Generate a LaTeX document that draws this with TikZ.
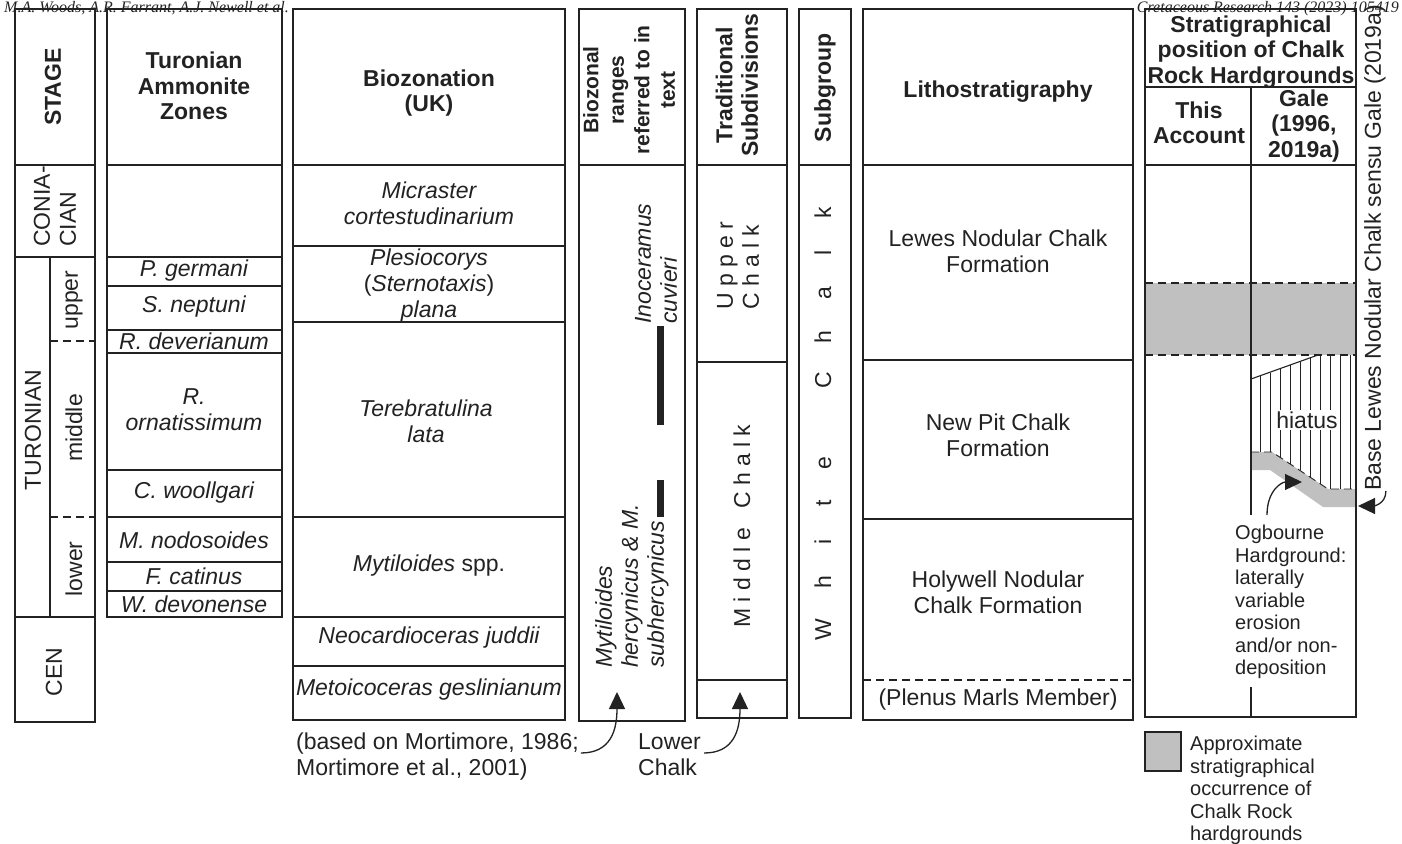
\documentclass[tikz,border=0pt]{standalone}
\usepackage{fontspec}
\setmainfont{Liberation Sans}
\newfontfamily\runfont{Liberation Serif}
\usetikzlibrary{arrows.meta}

\definecolor{ink}{RGB}{34,34,34}
\definecolor{hardgrey}{RGB}{192,192,192}

\tikzset{
frame/.style={draw=ink,line width=1.8pt},
rule/.style={draw=ink,line width=1.1pt},
hatch/.style={draw=ink,line width=0.9pt},
broken/.style={dash pattern=on 8pt off 5pt},
txt/.style={text=ink,inner sep=0pt,align=center,font=\fontsize{23}{26}\selectfont},
head/.style={txt,font=\bfseries\fontsize{23}{25.5}\selectfont},
taxon/.style={txt,font=\itshape\fontsize{23}{26}\selectfont},
note/.style={text=ink,inner sep=0pt,align=left,anchor=north west,font=\fontsize{20}{22.5}\selectfont},
runhead/.style={text=ink,inner sep=0pt,font=\runfont\itshape\fontsize{16}{18}\selectfont},
arrow/.style={draw=ink,line width=1.3pt,-{Triangle[length=17pt,width=16pt]}},
}

\begin{document}
\begin{tikzpicture}[x=1pt,y=-1pt]
\useasboundingbox (0,0) rectangle (1402,843);

\fill[hardgrey] (1145,283) rectangle (1356,355);
\fill[hardgrey] (1251,452)--(1272,452)--(1328,489)--(1356,489)--(1356,507)--(1323,507)--(1270,470)--(1251,470)--cycle;

\foreach \x/\t/\b in {1260/376/452,1270/373/452,1280/369/457,1290/365/464,1300/362/470,
  1310/358/477,1320/355/484,1330/355/489,1340/355/489,1350/355/489}
  \draw[hatch] (\x,\t)--(\x,\b);
\draw[rule] (1251,379)--(1318,355);
\draw[hatch,broken] (1251,452)--(1272,452)--(1328,489)--(1356,489);

\draw[frame] (15,9) rectangle (95,722);
\draw[frame] (107,9) rectangle (282,617);
\draw[frame] (293,9) rectangle (565,720);
\draw[frame] (579,9) rectangle (685,721);
\draw[frame] (697,9) rectangle (787,718);
\draw[frame] (799,9) rectangle (851,718);
\draw[frame] (863,9) rectangle (1133,720);
\draw[frame] (1145,9) rectangle (1356,717);

\draw[rule] (15,165)--(95,165);
\draw[rule] (15,257)--(95,257);
\draw[frame] (15,617)--(95,617);
\draw[rule] (50,257)--(50,617);
\draw[rule,broken] (50,341)--(95,341);
\draw[rule,broken] (50,517)--(95,517);

\foreach \y in {165,257,286,330,353,470,517,562,591}
  \draw[rule] (107,\y)--(282,\y);

\draw[frame] (293,165)--(565,165);
\foreach \y in {246,322,517,617,666}
  \draw[rule] (293,\y)--(565,\y);

\draw[rule] (579,165)--(685,165);
\foreach \y in {165,362,680}
  \draw[rule] (697,\y)--(787,\y);
\draw[rule] (799,165)--(851,165);

\draw[frame] (863,165)--(1133,165);
\draw[rule] (863,360)--(1133,360);
\draw[rule] (863,519)--(1133,519);
\draw[rule,broken] (863,680)--(1133,680);

\draw[rule] (1145,87)--(1356,87);
\draw[frame] (1145,165)--(1356,165);
\draw[rule,broken] (1145,283)--(1356,283);
\draw[rule,broken] (1145,355)--(1356,355);
\draw[rule] (1251,87)--(1251,515);
\draw[rule] (1251,687)--(1251,717);

\fill[ink] (657,326) rectangle (664,425);
\fill[ink] (657,480) rectangle (664,517);

\node[runhead,anchor=base west] (authors) at (4,13) {M.A. Woods, A.R. Farrant, A.J. Newell et al.};
\node[runhead,anchor=base east] (journal) at (1399,13) {Cretaceous Research 143 (2023) 105419};

\node[head,rotate=90] (stagehd) at (53,87) {STAGE};
\node[txt,rotate=90,anchor=west,align=left] (coniacian) at (55,247) {CONIA-\\CIAN};
\node[txt,rotate=90] (turonian) at (33,430) {TURONIAN};
\node[txt,rotate=90] (upper) at (74,300) {upper};
\node[txt,rotate=90] (middle) at (74,428) {middle};
\node[txt,rotate=90] (lower) at (74,569) {lower};
\node[txt,rotate=90] (cen) at (54,672) {CEN};

\node[head] (ammhd) at (194,86) {Turonian\\Ammonite\\Zones};
\node[taxon] (germani) at (194,271) {P. germani};
\node[taxon] (neptuni) at (194,307) {S. neptuni};
\node[taxon] (deverianum) at (194,341) {R. deverianum};
\node[taxon] (ornatissimum) at (194,410) {R.\\ornatissimum};
\node[taxon] (woollgari) at (194,493) {C. woollgari};
\node[taxon] (nodosoides) at (194,540) {M. nodosoides};
\node[taxon] (catinus) at (194,576) {F. catinus};
\node[taxon] (devonense) at (194,604) {W. devonense};

\node[head] (biohd) at (429,93) {Biozonation\\(UK)};
\node[taxon] (micraster) at (429,203) {Micraster\\cortestudinarium};
\node[txt] (plesiocorys) at (429,286) {\textit{Plesiocorys}\\(\textit{Sternotaxis})\\\textit{plana}};
\node[taxon] (terebratulina) at (426,421) {Terebratulina\\lata};
\node[txt] (mytiloides) at (429,566) {\textit{Mytiloides} spp.};
\node[taxon] (juddii) at (429,638) {Neocardioceras juddii};
\node[taxon] (geslinianum) at (429,690) {Metoicoceras geslinianum};

\node[head,rotate=90,font=\bfseries\fontsize{21}{25.5}\selectfont] (rangehd) at (629,90) {Biozonal\\ranges\\referred to in\\text};
\node[taxon,rotate=90,anchor=west,align=left] (cuvieri) at (656,324) {Inoceramus\\cuvieri};
\node[taxon,rotate=90,anchor=west,align=left] (hercynicus) at (632,668) {Mytiloides\\hercynicus \& M.\\subhercynicus};

\node[head,rotate=90] (tradhd) at (737,85) {Traditional\\Subdivisions};
\node[txt,rotate=90,anchor=west,align=left] (upperchalk) at (738,310) {U p p e r\\C h a l k};
\node[txt,rotate=90,anchor=west] (middlechalk) at (742,628) {M i d d l e\ \ \ C h a l k};

\node[head,rotate=90] (subhd) at (825,88) {Subgroup};
\foreach \c/\y in {W/630,h/582,i/542,t/503,e/463,C/380,h/337,a/293,l/253,k/213}
  \node[txt,rotate=90,anchor=base] (white\y) at (831,\y) {\c};

\node[head] (lithohd) at (998,92) {Lithostratigraphy};
\node[txt] (lewes) at (998,251) {Lewes Nodular Chalk\\Formation};
\node[txt] (newpit) at (998,435) {New Pit Chalk\\Formation};
\node[txt] (holywell) at (998,592) {Holywell Nodular\\Chalk Formation};
\node[txt] (plenus) at (998,700) {(Plenus Marls Member)};

\node[head] (posthd) at (1251,52) {Stratigraphical\\position of Chalk\\Rock Hardgrounds};
\node[head] (accthd) at (1199,123) {This\\Account};
\node[head] (galehd) at (1304,126) {Gale\\(1996,\\2019a)};

\node[txt,fill=white,inner sep=2pt] (hiatus) at (1307,420) {hiatus};

\node[note] (ogbourne) at (1235,525) {Ogbourne\\Hardground:\\laterally\\variable\\erosion\\and/or non-\\deposition};
\coordinate (ogbtip) at (1302,482);
\draw[arrow] ([shift={(32,-10)}]ogbourne.north west) .. controls +(0,-25) and +(-20,0) .. (ogbtip);

\node[txt,rotate=90,anchor=west] (galebase) at (1375,491) {Base Lewes Nodular Chalk sensu Gale (2019a)};
\coordinate (galetip) at (1358,506);
\draw[arrow] (galebase.south west) .. controls +(0,14) and +(14,0) .. (galetip);

\node[txt,align=left,anchor=north west] (based) at (296,733) {(based on Mortimore, 1986;\\Mortimore et al., 2001)};
\coordinate (mytip) at (617,692);
\draw[arrow] ([shift={(2,20)}]based.north east) .. controls +(30,0) and +(0,38) .. (mytip);

\node[txt,align=left,anchor=north west] (lowerchalk) at (638,733) {Lower\\Chalk};
\coordinate (lowtip) at (740,692);
\draw[arrow] ([shift={(3,20)}]lowerchalk.north east) .. controls +(30,0) and +(0,38) .. (lowtip);

\draw[rule,fill=hardgrey] (1145,732) rectangle (1181,771);
\node[note] (legend) at (1190,736) {Approximate\\stratigraphical\\occurrence of\\Chalk Rock\\hardgrounds};
\end{tikzpicture}
\end{document}
